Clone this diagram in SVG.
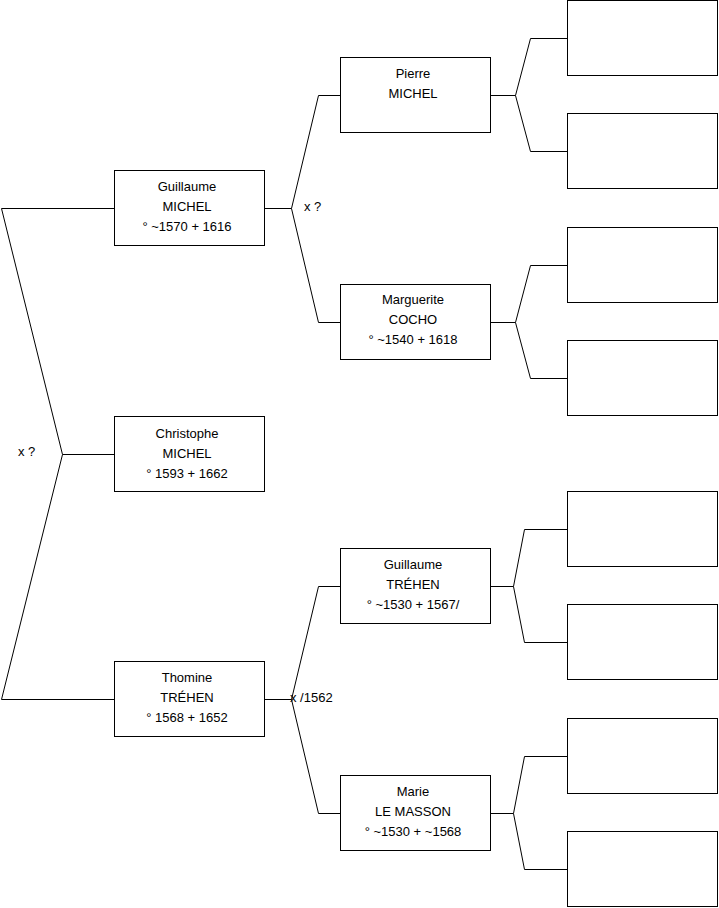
<svg xmlns="http://www.w3.org/2000/svg" width="719" height="908" viewBox="0 0 719 908">
<style>
.box{fill:#fff;stroke:#000;stroke-width:1}
.ln{fill:none;stroke:#000;stroke-width:1}
text{font-family:"Liberation Sans",Arial,sans-serif;font-size:13px;fill:#000}
.c{text-anchor:middle}
</style>
<rect width="719" height="908" fill="#fff"/>
<g id="connectors">
<polyline class="ln" points="114,208.5 1.5,208.5 62.5,454.5 114,454.5"/>
<polyline class="ln" points="62.5,454.5 1.5,699.5 114,699.5"/>
<text x="18" y="456">x ?</text>
<polyline class="ln" points="265,208.5 291.5,208.5 318.5,95.5 340,95.5"/>
<polyline class="ln" points="291.5,208.5 318.5,322.5 340,322.5"/>
<text x="304" y="211">x ?</text>
<polyline class="ln" points="265,699.5 291.5,699.5 318.5,586.5 340,586.5"/>
<polyline class="ln" points="291.5,699.5 318.5,813.5 340,813.5"/>
<text x="290" y="702">x /1562</text>
<polyline class="ln" points="491,95.5 515.5,95.5 530.5,38.5 567,38.5"/>
<polyline class="ln" points="515.5,95.5 530.5,151.5 567,151.5"/>
<polyline class="ln" points="491,322.5 515.5,322.5 530.5,265.5 567,265.5"/>
<polyline class="ln" points="515.5,322.5 530.5,378.5 567,378.5"/>
<polyline class="ln" points="491,586.5 513.5,586.5 524.5,529.5 567,529.5"/>
<polyline class="ln" points="513.5,586.5 524.5,642.5 567,642.5"/>
<polyline class="ln" points="491,813.5 513.5,813.5 524.5,756.5 567,756.5"/>
<polyline class="ln" points="513.5,813.5 524.5,869.5 567,869.5"/>
</g>
<g id="guillaume-michel"><rect class="box" x="114.5" y="170.5" width="150" height="75"/>
<text class="c" x="187" y="190.5">Guillaume</text><text class="c" x="187" y="210.5">MICHEL</text><text class="c" x="187" y="230.5">° ~1570 + 1616</text></g>
<g id="christophe-michel"><rect class="box" x="114.5" y="416.5" width="150" height="75"/>
<text class="c" x="187" y="437.5">Christophe</text><text class="c" x="187" y="457.5">MICHEL</text><text class="c" x="187" y="477.5">° 1593 + 1662</text></g>
<g id="thomine-trehen"><rect class="box" x="114.5" y="661.5" width="150" height="75"/>
<text class="c" x="187" y="682">Thomine</text><text class="c" x="187" y="702">TRÉHEN</text><text class="c" x="187" y="722">° 1568 + 1652</text></g>
<g id="pierre-michel"><rect class="box" x="340.5" y="57.5" width="150" height="75"/>
<text class="c" x="413" y="77.5">Pierre</text><text class="c" x="413" y="97.5">MICHEL</text></g>
<g id="marguerite-cocho"><rect class="box" x="340.5" y="284.5" width="150" height="75"/>
<text class="c" x="413" y="304">Marguerite</text><text class="c" x="413" y="324">COCHO</text><text class="c" x="413" y="344">° ~1540 + 1618</text></g>
<g id="guillaume-trehen"><rect class="box" x="340.5" y="548.5" width="150" height="75"/>
<text class="c" x="413" y="568.5">Guillaume</text><text class="c" x="413" y="588.5">TRÉHEN</text><text class="c" x="413" y="608.5">° ~1530 + 1567/</text></g>
<g id="marie-le-masson"><rect class="box" x="340.5" y="775.5" width="150" height="75"/>
<text class="c" x="413" y="795.5">Marie</text><text class="c" x="413" y="815.5">LE MASSON</text><text class="c" x="413" y="835.5">° ~1530 + ~1568</text></g>
<g id="gp1"><rect class="box" x="567.5" y="0.5" width="150" height="75"/></g>
<g id="gp2"><rect class="box" x="567.5" y="113.5" width="150" height="75"/></g>
<g id="gp3"><rect class="box" x="567.5" y="227.5" width="150" height="75"/></g>
<g id="gp4"><rect class="box" x="567.5" y="340.5" width="150" height="75"/></g>
<g id="gp5"><rect class="box" x="567.5" y="491.5" width="150" height="75"/></g>
<g id="gp6"><rect class="box" x="567.5" y="604.5" width="150" height="75"/></g>
<g id="gp7"><rect class="box" x="567.5" y="718.5" width="150" height="75"/></g>
<g id="gp8"><rect class="box" x="567.5" y="831.5" width="150" height="75"/></g>
</svg>
